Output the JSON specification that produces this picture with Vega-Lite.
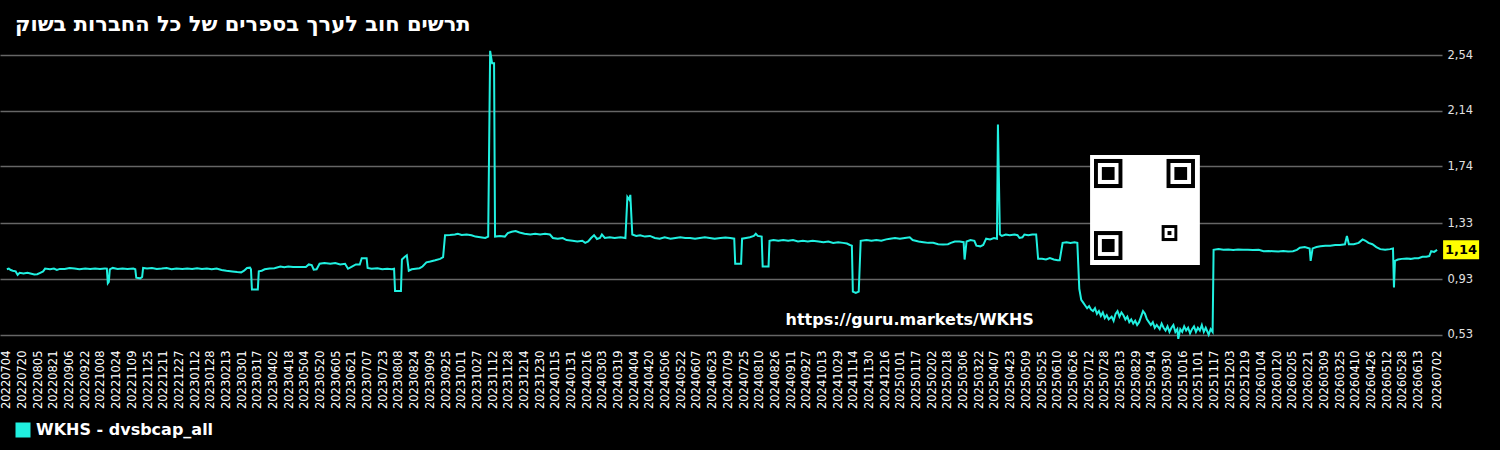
{
"$schema": "https://vega.github.io/schema/vega-lite/v6.json",
"width": 1442,
"height": 300,
"autosize": "none",
"padding": {"left": 0, "top": 45, "right": 58, "bottom": 105},
"background": "#000000",
"title": {"text": "תרשים חוב לערך בספרים של כל החברות בשוק", "anchor": "start", "frame": "group", "dx": 15, "offset": -7, "baseline": "alphabetic", "color": "#ffffff", "font": "DejaVu Sans", "fontSize": 21, "fontWeight": "bold"},
"datasets": {
"main": [
{"d":"2022-07-04","v":1.0},{"d":"2022-07-06","v":1.005},{"d":"2022-07-08","v":0.995},{"d":"2022-07-10","v":0.99},{"d":"2022-07-13","v":0.985},{"d":"2022-07-15","v":0.96},{"d":"2022-07-17","v":0.975},{"d":"2022-07-21","v":0.97},{"d":"2022-07-25","v":0.975},{"d":"2022-07-28","v":0.97},{"d":"2022-08-01","v":0.963},{"d":"2022-08-04","v":0.965},{"d":"2022-08-07","v":0.975},{"d":"2022-08-10","v":0.985},{"d":"2022-08-12","v":1.005},{"d":"2022-08-17","v":1.0},{"d":"2022-08-21","v":1.005},{"d":"2022-08-24","v":0.995},{"d":"2022-08-27","v":1.003},{"d":"2022-09-01","v":1.003},{"d":"2022-09-06","v":1.01},{"d":"2022-09-11","v":1.005},{"d":"2022-09-16","v":1.0},{"d":"2022-09-22","v":1.006},{"d":"2022-09-27","v":1.003},{"d":"2022-10-02","v":1.006},{"d":"2022-10-07","v":1.003},{"d":"2022-10-12","v":1.006},{"d":"2022-10-14","v":1.005},{"d":"2022-10-15","v":0.9},{"d":"2022-10-16","v":0.91},{"d":"2022-10-17","v":1.0},{"d":"2022-10-20","v":1.01},{"d":"2022-10-25","v":1.003},{"d":"2022-10-30","v":1.006},{"d":"2022-11-04","v":1.003},{"d":"2022-11-10","v":1.006},{"d":"2022-11-12","v":1.0},{"d":"2022-11-13","v":0.94},{"d":"2022-11-17","v":0.935},{"d":"2022-11-19","v":0.945},{"d":"2022-11-20","v":1.01},{"d":"2022-11-24","v":1.006},{"d":"2022-11-29","v":1.01},{"d":"2022-12-04","v":1.003},{"d":"2022-12-09","v":1.006},{"d":"2022-12-14","v":1.01},{"d":"2022-12-19","v":1.0},{"d":"2022-12-24","v":1.006},{"d":"2022-12-30","v":1.003},
{"d":"2023-01-04","v":1.006},{"d":"2023-01-09","v":1.003},{"d":"2023-01-14","v":1.008},{"d":"2023-01-19","v":1.003},{"d":"2023-01-24","v":1.006},{"d":"2023-01-29","v":1.0},{"d":"2023-02-03","v":1.006},{"d":"2023-02-08","v":0.995},{"d":"2023-02-13","v":0.99},{"d":"2023-02-19","v":0.985},{"d":"2023-02-24","v":0.98},{"d":"2023-02-28","v":0.978},{"d":"2023-03-03","v":0.99},{"d":"2023-03-06","v":1.01},{"d":"2023-03-09","v":1.012},{"d":"2023-03-10","v":1.0},{"d":"2023-03-11","v":0.855},{"d":"2023-03-17","v":0.855},{"d":"2023-03-18","v":0.985},{"d":"2023-03-21","v":0.99},{"d":"2023-03-24","v":1.0},{"d":"2023-03-29","v":1.006},{"d":"2023-04-03","v":1.008},{"d":"2023-04-09","v":1.02},{"d":"2023-04-13","v":1.015},{"d":"2023-04-17","v":1.02},{"d":"2023-04-22","v":1.016},{"d":"2023-04-29","v":1.016},{"d":"2023-05-05","v":1.016},{"d":"2023-05-08","v":1.035},{"d":"2023-05-11","v":1.03},{"d":"2023-05-13","v":0.997},{"d":"2023-05-16","v":1.0},{"d":"2023-05-19","v":1.04},{"d":"2023-05-24","v":1.045},{"d":"2023-05-30","v":1.04},{"d":"2023-06-04","v":1.045},{"d":"2023-06-09","v":1.035},{"d":"2023-06-14","v":1.04},{"d":"2023-06-17","v":1.004},{"d":"2023-06-21","v":1.02},{"d":"2023-06-25","v":1.035},{"d":"2023-06-29","v":1.035},{"d":"2023-07-01","v":1.08},{"d":"2023-07-06","v":1.08},{"d":"2023-07-07","v":1.01},{"d":"2023-07-11","v":1.004},{"d":"2023-07-17","v":1.008},{"d":"2023-07-22","v":1.0},{"d":"2023-07-27","v":1.004},{"d":"2023-08-01","v":1.0},{"d":"2023-08-03","v":1.004},{"d":"2023-08-04","v":0.844},{"d":"2023-08-10","v":0.844},{"d":"2023-08-11","v":1.07},{"d":"2023-08-14","v":1.09},{"d":"2023-08-16","v":1.1},{"d":"2023-08-18","v":0.99},{"d":"2023-08-21","v":1.0},{"d":"2023-08-25","v":1.004},{"d":"2023-08-29","v":1.008},{"d":"2023-09-01","v":1.02},{"d":"2023-09-05","v":1.05},{"d":"2023-09-09","v":1.056},{"d":"2023-09-14","v":1.065},{"d":"2023-09-19","v":1.075},{"d":"2023-09-22","v":1.087},{"d":"2023-09-24","v":1.245},{"d":"2023-09-29","v":1.247},{"d":"2023-10-04","v":1.25},{"d":"2023-10-07","v":1.255},{"d":"2023-10-11","v":1.247},{"d":"2023-10-16","v":1.25},{"d":"2023-10-21","v":1.245},{"d":"2023-10-25","v":1.235},{"d":"2023-10-30","v":1.23},{"d":"2023-11-04","v":1.225},{"d":"2023-11-07","v":1.235},{"d":"2023-11-09","v":2.57},{"d":"2023-11-11","v":2.48},{"d":"2023-11-13","v":2.48},{"d":"2023-11-14","v":1.235},{"d":"2023-11-19","v":1.24},{"d":"2023-11-24","v":1.235},{"d":"2023-11-27","v":1.26},{"d":"2023-12-01","v":1.27},{"d":"2023-12-05","v":1.275},{"d":"2023-12-09","v":1.265},{"d":"2023-12-14","v":1.255},{"d":"2023-12-20","v":1.25},{"d":"2023-12-25","v":1.255},{"d":"2023-12-30","v":1.25},
{"d":"2024-01-04","v":1.255},{"d":"2024-01-09","v":1.25},{"d":"2024-01-12","v":1.225},{"d":"2024-01-17","v":1.22},{"d":"2024-01-22","v":1.225},{"d":"2024-01-26","v":1.21},{"d":"2024-02-01","v":1.205},{"d":"2024-02-06","v":1.2},{"d":"2024-02-11","v":1.205},{"d":"2024-02-14","v":1.19},{"d":"2024-02-17","v":1.2},{"d":"2024-02-20","v":1.225},{"d":"2024-02-23","v":1.245},{"d":"2024-02-26","v":1.218},{"d":"2024-02-29","v":1.225},{"d":"2024-03-02","v":1.25},{"d":"2024-03-05","v":1.225},{"d":"2024-03-10","v":1.23},{"d":"2024-03-15","v":1.225},{"d":"2024-03-21","v":1.23},{"d":"2024-03-26","v":1.225},{"d":"2024-03-28","v":1.52},{"d":"2024-03-30","v":1.5},{"d":"2024-03-31","v":1.535},{"d":"2024-04-02","v":1.25},{"d":"2024-04-06","v":1.24},{"d":"2024-04-10","v":1.245},{"d":"2024-04-15","v":1.235},{"d":"2024-04-20","v":1.24},{"d":"2024-04-25","v":1.225},{"d":"2024-04-30","v":1.22},{"d":"2024-05-05","v":1.23},{"d":"2024-05-11","v":1.22},{"d":"2024-05-16","v":1.225},{"d":"2024-05-21","v":1.23},{"d":"2024-05-26","v":1.225},{"d":"2024-05-31","v":1.225},{"d":"2024-06-05","v":1.22},{"d":"2024-06-10","v":1.225},{"d":"2024-06-15","v":1.23},{"d":"2024-06-20","v":1.225},{"d":"2024-06-25","v":1.22},{"d":"2024-07-01","v":1.225},{"d":"2024-07-06","v":1.228},{"d":"2024-07-11","v":1.225},{"d":"2024-07-15","v":1.22},{"d":"2024-07-16","v":1.04},{"d":"2024-07-22","v":1.04},{"d":"2024-07-23","v":1.22},{"d":"2024-07-27","v":1.225},{"d":"2024-07-31","v":1.23},{"d":"2024-08-04","v":1.24},{"d":"2024-08-06","v":1.255},{"d":"2024-08-08","v":1.24},{"d":"2024-08-12","v":1.235},{"d":"2024-08-13","v":1.02},{"d":"2024-08-19","v":1.02},{"d":"2024-08-20","v":1.205},{"d":"2024-08-24","v":1.21},{"d":"2024-08-29","v":1.205},{"d":"2024-09-03","v":1.21},{"d":"2024-09-08","v":1.205},{"d":"2024-09-13","v":1.21},{"d":"2024-09-18","v":1.2},{"d":"2024-09-23","v":1.205},{"d":"2024-09-28","v":1.2},{"d":"2024-10-03","v":1.205},{"d":"2024-10-09","v":1.2},{"d":"2024-10-14","v":1.195},{"d":"2024-10-19","v":1.2},{"d":"2024-10-24","v":1.19},{"d":"2024-10-29","v":1.195},{"d":"2024-11-03","v":1.19},{"d":"2024-11-07","v":1.185},{"d":"2024-11-10","v":1.175},{"d":"2024-11-12","v":1.17},{"d":"2024-11-13","v":0.84},{"d":"2024-11-16","v":0.83},{"d":"2024-11-19","v":0.84},{"d":"2024-11-21","v":1.205},{"d":"2024-11-27","v":1.21},{"d":"2024-12-02","v":1.205},{"d":"2024-12-07","v":1.21},{"d":"2024-12-12","v":1.205},{"d":"2024-12-17","v":1.215},{"d":"2024-12-21","v":1.22},{"d":"2024-12-26","v":1.225},{"d":"2024-12-31","v":1.22},
{"d":"2025-01-05","v":1.225},{"d":"2025-01-10","v":1.23},{"d":"2025-01-13","v":1.21},{"d":"2025-01-19","v":1.2},{"d":"2025-01-24","v":1.195},{"d":"2025-01-29","v":1.19},{"d":"2025-02-03","v":1.19},{"d":"2025-02-08","v":1.18},{"d":"2025-02-13","v":1.178},{"d":"2025-02-18","v":1.18},{"d":"2025-02-21","v":1.19},{"d":"2025-02-25","v":1.2},{"d":"2025-03-02","v":1.2},{"d":"2025-03-06","v":1.195},{"d":"2025-03-07","v":1.07},{"d":"2025-03-09","v":1.2},{"d":"2025-03-13","v":1.21},{"d":"2025-03-17","v":1.205},{"d":"2025-03-19","v":1.17},{"d":"2025-03-23","v":1.165},{"d":"2025-03-26","v":1.175},{"d":"2025-03-29","v":1.22},{"d":"2025-04-02","v":1.215},{"d":"2025-04-06","v":1.225},{"d":"2025-04-09","v":1.22},{"d":"2025-04-10","v":2.04},{"d":"2025-04-12","v":1.25},{"d":"2025-04-14","v":1.24},{"d":"2025-04-18","v":1.25},{"d":"2025-04-22","v":1.245},{"d":"2025-04-27","v":1.25},{"d":"2025-04-30","v":1.245},{"d":"2025-05-02","v":1.225},{"d":"2025-05-05","v":1.23},{"d":"2025-05-07","v":1.25},{"d":"2025-05-11","v":1.245},{"d":"2025-05-15","v":1.25},{"d":"2025-05-19","v":1.25},{"d":"2025-05-21","v":1.075},{"d":"2025-05-25","v":1.075},{"d":"2025-05-29","v":1.07},{"d":"2025-06-02","v":1.08},{"d":"2025-06-06","v":1.07},{"d":"2025-06-10","v":1.065},{"d":"2025-06-12","v":1.065},{"d":"2025-06-15","v":1.19},{"d":"2025-06-19","v":1.195},{"d":"2025-06-23","v":1.19},{"d":"2025-06-27","v":1.195},{"d":"2025-06-30","v":1.19},{"d":"2025-07-02","v":0.86},{"d":"2025-07-04","v":0.78},{"d":"2025-07-06","v":0.76},{"d":"2025-07-08","v":0.74},{"d":"2025-07-10","v":0.72},{"d":"2025-07-12","v":0.735},{"d":"2025-07-14","v":0.71},{"d":"2025-07-16","v":0.7},{"d":"2025-07-18","v":0.72},{"d":"2025-07-20","v":0.68},{"d":"2025-07-22","v":0.7},{"d":"2025-07-24","v":0.665},{"d":"2025-07-26","v":0.69},{"d":"2025-07-28","v":0.65},{"d":"2025-07-30","v":0.67},{"d":"2025-08-01","v":0.64},{"d":"2025-08-04","v":0.66},{"d":"2025-08-06","v":0.63},{"d":"2025-08-08","v":0.68},{"d":"2025-08-10","v":0.7},{"d":"2025-08-12","v":0.66},{"d":"2025-08-14","v":0.69},{"d":"2025-08-16","v":0.67},{"d":"2025-08-18","v":0.64},{"d":"2025-08-20","v":0.66},{"d":"2025-08-22","v":0.62},{"d":"2025-08-24","v":0.64},{"d":"2025-08-26","v":0.61},{"d":"2025-08-28","v":0.63},{"d":"2025-08-30","v":0.6},{"d":"2025-09-01","v":0.62},{"d":"2025-09-03","v":0.66},{"d":"2025-09-05","v":0.7},{"d":"2025-09-07","v":0.68},{"d":"2025-09-09","v":0.64},{"d":"2025-09-11","v":0.62},{"d":"2025-09-13","v":0.6},{"d":"2025-09-15","v":0.62},{"d":"2025-09-17","v":0.58},{"d":"2025-09-19","v":0.6},{"d":"2025-09-22","v":0.57},{"d":"2025-09-24","v":0.61},{"d":"2025-09-26","v":0.58},{"d":"2025-09-28","v":0.56},{"d":"2025-09-30","v":0.59},{"d":"2025-10-02","v":0.55},{"d":"2025-10-04","v":0.58},{"d":"2025-10-06","v":0.6},{"d":"2025-10-08","v":0.55},{"d":"2025-10-10","v":0.57},{"d":"2025-10-11","v":0.5},{"d":"2025-10-13","v":0.57},{"d":"2025-10-15","v":0.55},{"d":"2025-10-17","v":0.59},{"d":"2025-10-19","v":0.56},{"d":"2025-10-21","v":0.58},{"d":"2025-10-23","v":0.54},{"d":"2025-10-25","v":0.57},{"d":"2025-10-27","v":0.59},{"d":"2025-10-29","v":0.55},{"d":"2025-10-31","v":0.58},{"d":"2025-11-02","v":0.56},{"d":"2025-11-04","v":0.6},{"d":"2025-11-06","v":0.55},{"d":"2025-11-08","v":0.58},{"d":"2025-11-11","v":0.53},{"d":"2025-11-13","v":0.57},{"d":"2025-11-15","v":0.55},{"d":"2025-11-16","v":1.14},{"d":"2025-11-21","v":1.145},{"d":"2025-11-26","v":1.14},{"d":"2025-12-01","v":1.142},{"d":"2025-12-06","v":1.138},{"d":"2025-12-11","v":1.142},{"d":"2025-12-16","v":1.14},{"d":"2025-12-21","v":1.14},{"d":"2025-12-26","v":1.138},
{"d":"2026-01-01","v":1.14},{"d":"2026-01-06","v":1.13},{"d":"2026-01-11","v":1.132},{"d":"2026-01-16","v":1.13},{"d":"2026-01-21","v":1.128},{"d":"2026-01-26","v":1.132},{"d":"2026-01-31","v":1.128},{"d":"2026-02-05","v":1.13},{"d":"2026-02-09","v":1.14},{"d":"2026-02-12","v":1.155},{"d":"2026-02-17","v":1.16},{"d":"2026-02-22","v":1.15},{"d":"2026-02-23","v":1.06},{"d":"2026-02-25","v":1.15},{"d":"2026-03-01","v":1.16},{"d":"2026-03-05","v":1.165},{"d":"2026-03-10","v":1.17},{"d":"2026-03-15","v":1.17},{"d":"2026-03-20","v":1.175},{"d":"2026-03-25","v":1.175},{"d":"2026-03-30","v":1.18},{"d":"2026-04-01","v":1.24},{"d":"2026-04-03","v":1.18},{"d":"2026-04-08","v":1.18},{"d":"2026-04-13","v":1.19},{"d":"2026-04-17","v":1.215},{"d":"2026-04-20","v":1.205},{"d":"2026-04-23","v":1.19},{"d":"2026-04-27","v":1.18},{"d":"2026-05-01","v":1.16},{"d":"2026-05-05","v":1.145},{"d":"2026-05-10","v":1.14},{"d":"2026-05-15","v":1.145},{"d":"2026-05-18","v":1.15},{"d":"2026-05-19","v":0.87},{"d":"2026-05-20","v":1.06},{"d":"2026-05-23","v":1.07},{"d":"2026-05-27","v":1.075},{"d":"2026-06-01","v":1.078},{"d":"2026-06-05","v":1.075},{"d":"2026-06-09","v":1.08},{"d":"2026-06-13","v":1.08},{"d":"2026-06-17","v":1.09},{"d":"2026-06-21","v":1.09},{"d":"2026-06-24","v":1.095},{"d":"2026-06-26","v":1.13},{"d":"2026-06-29","v":1.125},{"d":"2026-07-02","v":1.14}
],
"last": [{"d":"2026-07-02","v":1.14}],
"url": [{"d":"2025-01-10","v":0.636,"t":"https://guru.markets/WKHS"}],
"qrBg": [{"d":"2025-07-13","d2":"2025-11-02","v":1.031,"v2":1.821}],
"qrOuter": [{"d":"2025-07-17","d2":"2025-08-15","v":1.584,"v2":1.793},{"d":"2025-09-29","d2":"2025-10-28","v":1.584,"v2":1.793},{"d":"2025-07-17","d2":"2025-08-15","v":1.067,"v2":1.275},{"d":"2025-09-24","d2":"2025-10-10","v":1.203,"v2":1.318}],
"qrInner": [{"d":"2025-07-21","d2":"2025-08-11","v":1.613,"v2":1.764},{"d":"2025-10-03","d2":"2025-10-24","v":1.613,"v2":1.764},{"d":"2025-07-21","d2":"2025-08-11","v":1.096,"v2":1.246},{"d":"2025-09-27","d2":"2025-10-07","v":1.225,"v2":1.297}],
"qrCore": [{"d":"2025-07-25","d2":"2025-08-07","v":1.642,"v2":1.735},{"d":"2025-10-07","d2":"2025-10-20","v":1.642,"v2":1.735},{"d":"2025-07-25","d2":"2025-08-07","v":1.124,"v2":1.218},{"d":"2025-09-30","d2":"2025-10-04","v":1.246,"v2":1.275}]
},
"encoding": {
"x": {"field": "d", "type": "temporal",
"scale": {"type": "utc", "domain": [{"year":2022,"month":6,"date":27,"utc":true},{"year":2026,"month":7,"date":7,"utc":true}]},
"axis": {"title": null, "labelExpr": "utcFormat(datum.value, '%Y%m%d')", "labelAngle": -90, "labelFontSize": 11.5, "labelColor": "#ffffff", "labelPadding": 5, "labelOverlap": false, "labelFlush": false, "labelBound": false, "grid": false, "domain": false, "ticks": false, "tickSize": 0,
"values": [
{"year":2022,"month":7,"date":4,"utc":true},{"year":2022,"month":7,"date":20,"utc":true},{"year":2022,"month":8,"date":5,"utc":true},{"year":2022,"month":8,"date":21,"utc":true},{"year":2022,"month":9,"date":6,"utc":true},{"year":2022,"month":9,"date":22,"utc":true},{"year":2022,"month":10,"date":8,"utc":true},{"year":2022,"month":10,"date":24,"utc":true},{"year":2022,"month":11,"date":9,"utc":true},{"year":2022,"month":11,"date":25,"utc":true},{"year":2022,"month":12,"date":11,"utc":true},{"year":2022,"month":12,"date":27,"utc":true},
{"year":2023,"month":1,"date":12,"utc":true},{"year":2023,"month":1,"date":28,"utc":true},{"year":2023,"month":2,"date":13,"utc":true},{"year":2023,"month":3,"date":1,"utc":true},{"year":2023,"month":3,"date":17,"utc":true},{"year":2023,"month":4,"date":2,"utc":true},{"year":2023,"month":4,"date":18,"utc":true},{"year":2023,"month":5,"date":4,"utc":true},{"year":2023,"month":5,"date":20,"utc":true},{"year":2023,"month":6,"date":5,"utc":true},{"year":2023,"month":6,"date":21,"utc":true},{"year":2023,"month":7,"date":7,"utc":true},{"year":2023,"month":7,"date":23,"utc":true},{"year":2023,"month":8,"date":8,"utc":true},{"year":2023,"month":8,"date":24,"utc":true},{"year":2023,"month":9,"date":9,"utc":true},{"year":2023,"month":9,"date":25,"utc":true},{"year":2023,"month":10,"date":11,"utc":true},{"year":2023,"month":10,"date":27,"utc":true},{"year":2023,"month":11,"date":12,"utc":true},{"year":2023,"month":11,"date":28,"utc":true},{"year":2023,"month":12,"date":14,"utc":true},{"year":2023,"month":12,"date":30,"utc":true},
{"year":2024,"month":1,"date":15,"utc":true},{"year":2024,"month":1,"date":31,"utc":true},{"year":2024,"month":2,"date":16,"utc":true},{"year":2024,"month":3,"date":3,"utc":true},{"year":2024,"month":3,"date":19,"utc":true},{"year":2024,"month":4,"date":4,"utc":true},{"year":2024,"month":4,"date":20,"utc":true},{"year":2024,"month":5,"date":6,"utc":true},{"year":2024,"month":5,"date":22,"utc":true},{"year":2024,"month":6,"date":7,"utc":true},{"year":2024,"month":6,"date":23,"utc":true},{"year":2024,"month":7,"date":9,"utc":true},{"year":2024,"month":7,"date":25,"utc":true},{"year":2024,"month":8,"date":10,"utc":true},{"year":2024,"month":8,"date":26,"utc":true},{"year":2024,"month":9,"date":11,"utc":true},{"year":2024,"month":9,"date":27,"utc":true},{"year":2024,"month":10,"date":13,"utc":true},{"year":2024,"month":10,"date":29,"utc":true},{"year":2024,"month":11,"date":14,"utc":true},{"year":2024,"month":11,"date":30,"utc":true},{"year":2024,"month":12,"date":16,"utc":true},
{"year":2025,"month":1,"date":1,"utc":true},{"year":2025,"month":1,"date":17,"utc":true},{"year":2025,"month":2,"date":2,"utc":true},{"year":2025,"month":2,"date":18,"utc":true},{"year":2025,"month":3,"date":6,"utc":true},{"year":2025,"month":3,"date":22,"utc":true},{"year":2025,"month":4,"date":7,"utc":true},{"year":2025,"month":4,"date":23,"utc":true},{"year":2025,"month":5,"date":9,"utc":true},{"year":2025,"month":5,"date":25,"utc":true},{"year":2025,"month":6,"date":10,"utc":true},{"year":2025,"month":6,"date":26,"utc":true},{"year":2025,"month":7,"date":12,"utc":true},{"year":2025,"month":7,"date":28,"utc":true},{"year":2025,"month":8,"date":13,"utc":true},{"year":2025,"month":8,"date":29,"utc":true},{"year":2025,"month":9,"date":14,"utc":true},{"year":2025,"month":9,"date":30,"utc":true},{"year":2025,"month":10,"date":16,"utc":true},{"year":2025,"month":11,"date":1,"utc":true},{"year":2025,"month":11,"date":17,"utc":true},{"year":2025,"month":12,"date":3,"utc":true},{"year":2025,"month":12,"date":19,"utc":true},
{"year":2026,"month":1,"date":4,"utc":true},{"year":2026,"month":1,"date":20,"utc":true},{"year":2026,"month":2,"date":5,"utc":true},{"year":2026,"month":2,"date":21,"utc":true},{"year":2026,"month":3,"date":9,"utc":true},{"year":2026,"month":3,"date":25,"utc":true},{"year":2026,"month":4,"date":10,"utc":true},{"year":2026,"month":4,"date":26,"utc":true},{"year":2026,"month":5,"date":12,"utc":true},{"year":2026,"month":5,"date":28,"utc":true},{"year":2026,"month":6,"date":13,"utc":true},{"year":2026,"month":7,"date":2,"utc":true}
]}},
"y": {"field": "v", "type": "quantitative",
"scale": {"domain": [0.456, 2.612], "zero": false, "nice": false},
"axis": {"title": null, "orient": "right", "values": [0.53, 0.93, 1.33, 1.74, 2.14, 2.54], "format": ".2f", "labelFontSize": 11.5, "labelColor": "#e0e0e0", "labelPadding": 5, "labelBound": false, "labelFlush": false, "grid": true, "gridColor": "#666666", "gridWidth": 1.3, "domain": false, "ticks": false, "tickSize": 0}}
},
"layer": [
{
"data": {"name": "main"},
"mark": {"type": "line", "strokeWidth": 2},
"encoding": {
"color": {"datum": "WKHS - dvsbcap_all", "scale": {"range": ["#20f0e0"]},
"legend": {"orient": "none", "legendX": 15, "legendY": 377, "title": null, "padding": 0, "symbolType": "square", "symbolSize": 225, "symbolFillColor": "#20f0e0", "symbolStrokeColor": "#20f0e0", "symbolStrokeWidth": 0, "labelFontSize": 16, "labelFontWeight": "bold", "labelColor": "#ffffff", "labelFont": "DejaVu Sans", "labelOffset": 5, "labelLimit": 500}}
}
},
{"data": {"name": "qrBg"}, "mark": {"type": "rect", "color": "#ffffff"}, "encoding": {"x2": {"field": "d2"}, "y2": {"field": "v2"}}},
{"data": {"name": "qrOuter"}, "mark": {"type": "rect", "color": "#000000"}, "encoding": {"x2": {"field": "d2"}, "y2": {"field": "v2"}}},
{"data": {"name": "qrInner"}, "mark": {"type": "rect", "color": "#ffffff"}, "encoding": {"x2": {"field": "d2"}, "y2": {"field": "v2"}}},
{"data": {"name": "qrCore"}, "mark": {"type": "rect", "color": "#000000"}, "encoding": {"x2": {"field": "d2"}, "y2": {"field": "v2"}}},
{"data": {"name": "url"}, "mark": {"type": "text", "color": "#ffffff", "font": "DejaVu Sans", "fontWeight": "bold", "fontSize": 16, "align": "center", "baseline": "middle"}, "encoding": {"text": {"field": "t"}}},
{"data": {"name": "last"}, "mark": {"type": "point", "shape": "M-1,-0.53H1V0.53H-1Z", "size": 1296, "filled": true, "color": "#ffff00", "opacity": 1, "strokeWidth": 0, "xOffset": 24}},
{"data": {"name": "last"}, "mark": {"type": "text", "color": "#000000", "font": "DejaVu Sans", "fontWeight": "bold", "fontSize": 13, "align": "center", "baseline": "middle", "dx": 24}, "encoding": {"text": {"field": "v", "type": "quantitative", "format": ".2f"}}}
],
"config": {
"view": {"stroke": null},
"font": "DejaVu Sans",
"locale": {"number": {"decimal": ",", "thousands": ".", "grouping": [3], "currency": ["", ""]}},
"axis": {"labelFont": "DejaVu Sans"}
}
}
